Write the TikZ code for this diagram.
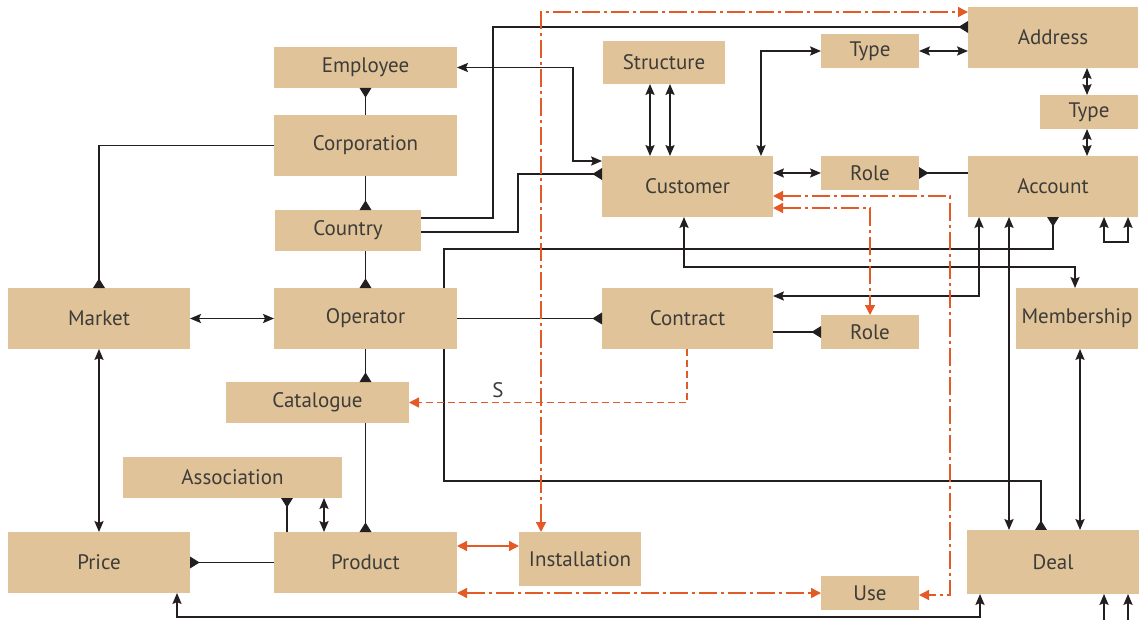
\documentclass[tikz,border=0pt]{standalone}
\usepackage{fontspec}
\setmainfont{PT Sans}
\usepackage{tikz}
\usetikzlibrary{arrows.meta}
\pgfdeclarelayer{back}
\pgfsetlayers{back,main}

\begin{document}
\begin{tikzpicture}[x=0.5pt,y=-0.5pt,
  entity/.style={fill=fillColor,text=textColor,inner sep=0pt,outer sep=0pt,
    font=\fontsize{10.5}{12}\selectfont},
  link/.style={draw=drawColor,line width=0.7pt},
  flow/.style={draw=flowColor,line width=0.7pt},
  dashdot/.style={dash pattern=on 9pt off 2pt on 1.5pt off 2pt},
  shortdash/.style={dash pattern=on 3.5pt off 2pt},
  >={Stealth[length=5.5pt,width=4.6pt,inset=1pt]},
  tri/.tip={Triangle[reversed,length=4.8pt,width=5.8pt]},
  otri/.tip={Triangle[length=5pt,width=5pt]}]
\definecolor{fillColor}{RGB}{224,195,153}
\definecolor{textColor}{RGB}{62,60,56}
\definecolor{drawColor}{RGB}{35,31,32}
\definecolor{flowColor}{RGB}{227,90,38}
\path[use as bounding box] (0,0) rectangle (1143,620);

% entities
\node[entity,minimum width=91.5pt,minimum height=20.5pt] (employee) at (365.5,67.5) {Employee};
\node[entity,minimum width=91.5pt,minimum height=30.5pt] (corp) at (365.5,145.5) {Corporation};
\node[entity,minimum width=73pt,minimum height=20.5pt] (country) at (348,230.5) {Country};
\node[entity,minimum width=61pt,minimum height=21.5pt] (structure) at (664,62.5) {Structure};
\node[entity,minimum width=85.5pt,minimum height=30.5pt] (customer) at (687.5,186.5) {Customer};
\node[entity,minimum width=49pt,minimum height=17pt] (typeA) at (870,51) {Type};
\node[entity,minimum width=85pt,minimum height=30.5pt] (address) at (1053,37.5) {Address};
\node[entity,minimum width=49pt,minimum height=17pt] (typeB) at (1089,112) {Type};
\node[entity,minimum width=49pt,minimum height=17pt] (roleA) at (870,173) {Role};
\node[entity,minimum width=85pt,minimum height=30.5pt] (account) at (1053,186.5) {Account};
\node[entity,minimum width=91pt,minimum height=30.5pt] (market) at (99,318.5) {Market};
\node[entity,minimum width=91.5pt,minimum height=30.5pt] (operator) at (365.5,318.5) {Operator};
\node[entity,minimum width=91.5pt,minimum height=20.5pt] (catalogue) at (317.5,402.5) {Catalogue};
\node[entity,minimum width=85.5pt,minimum height=30.5pt] (contract) at (687.5,318.5) {Contract};
\node[entity,minimum width=49pt,minimum height=17pt] (roleB) at (870,332) {Role};
\node[entity,minimum width=61pt,minimum height=30.5pt] (membership) at (1077,318.5) {Membership};
\node[entity,minimum width=109.5pt,minimum height=20.5pt] (association) at (232.5,477.5) {Association};
\node[entity,minimum width=91pt,minimum height=30.5pt] (price) at (99,562.5) {Price};
\node[entity,minimum width=91.5pt,minimum height=30.5pt] (product) at (365.5,562.5) {Product};
\node[entity,minimum width=61pt,minimum height=27pt] (installation) at (580,559) {Installation};
\node[entity,minimum width=49pt,minimum height=17pt] (use) at (870,593) {Use};
\node[entity,minimum width=86pt,minimum height=32pt] (deal) at (1053,562) {Deal};

% left column
\draw[link,-tri] (corp.north) -- (employee.south);
\draw[link,-tri] (corp.south) -- (country.north -| corp.south);
\draw[link,-tri] (country.south -| operator.north) -- (operator.north);
\draw[link,-tri] (corp.west) -| (market.north);
\draw[link,<->] (market.east) -- (operator.west);
\draw[link,-tri] (operator.south) -- (catalogue.north -| operator.south);
\draw[link,-tri] (catalogue.south -| product.north) -- (product.north);
\draw[link,<->] (market.south) -- (price.north);
\draw[link,-tri] (product.west) -- (price.east);
\draw[link,-tri] (product.north -| 287,0) -- (association.south -| 287,0);
\draw[link,<->] (association.south -| 324,0) -- (product.north -| 324,0);
\draw[link,<->] (price.south -| 177,0) -- (177,617) -| (deal.south -| 980,0);

% operator, contract
\draw[link,-tri] (operator.east) -- (contract.west);
\draw[link,-tri] (roleB.west -| contract.east) -- (roleB.west);
\draw[flow,shortdash,-otri] (contract.south -| 687,0) |- (catalogue.east)
  node[pos=0.84,above=2pt,inner sep=0pt,text=textColor,font=\fontsize{10.5}{12}\selectfont] (slabel) {S};

% country, employee
\draw[link,-tri] (country.east |- 0,218) -- (493,218) |- (address.west |- 0,27);
\draw[link,-tri] (country.east |- 0,232) -- (518,232) |- (customer.west |- 0,174);
\draw[link,<->] (employee.east) -- (573,67.5) |- (customer.west |- 0,161);

% customer
\draw[link,<->] (structure.south -| 650,0) -- (customer.north -| 650,0);
\draw[link,<->] (structure.south -| 670,0) -- (customer.north -| 670,0);
\draw[link,<->] (customer.north -| 761,0) |- (typeA.west);
\draw[link,<->] (typeA.east) -- (address.west |- typeA.east);
\draw[link,<->] (customer.east |- roleA.west) -- (roleA.west);
\draw[link,-tri] (account.west |- roleA.east) -- (roleA.east);
\draw[link,<->] (customer.south -| 684,0) |- (1075,267) -- (membership.north -| 1075,0);

% account
\draw[link,<->] (address.south -| 1087,0) -- (typeB.north -| 1087,0);
\draw[link,<->] (typeB.south -| 1087,0) -- (account.north -| 1087,0);
\draw[link,<->] (contract.east |- 0,296) -| (account.south -| 979,0);
\draw[link,<->] (account.south -| 1009,0) -- (deal.north -| 1009,0);
\draw[link,<->] (account.south -| 1104,0) -- (1104,242) -| (account.south -| 1128,0);
\draw[link,<->] (membership.south -| 1080,0) -- (deal.north -| 1080,0);

% deal inputs
\coordinate (inA) at (1104,620);
\coordinate (inB) at (1128,620);
\draw[link,->] (inA) -- (deal.south -| inA);
\draw[link,->] (inB) -- (deal.south -| inB);

% behind the operator box
\begin{pgfonlayer}{back}
\draw[link,tri-tri] (account.south -| 1053,0) -- (1053,249) -| (444,481) -| (deal.north -| 1041,0);
\end{pgfonlayer}

% orange flows
\begin{scope}[>={Triangle[length=5pt,width=5pt]}]
\draw[flow,dashdot,<->] (installation.north -| 541,0) |- (address.west |- 0,12);
\draw[flow,dashdot,<->] (customer.east |- 0,196) -- (950,196) |- (use.east |- 0,595);
\draw[flow,dashdot,<->] (customer.east |- 0,208) -| (roleB.north);
\draw[flow,<->] (product.east |- 0,546) -- (installation.west |- 0,546);
\draw[flow,dashdot,<->] (product.east |- 0,593) -- (use.west);
\end{scope}
\end{tikzpicture}
\end{document}
